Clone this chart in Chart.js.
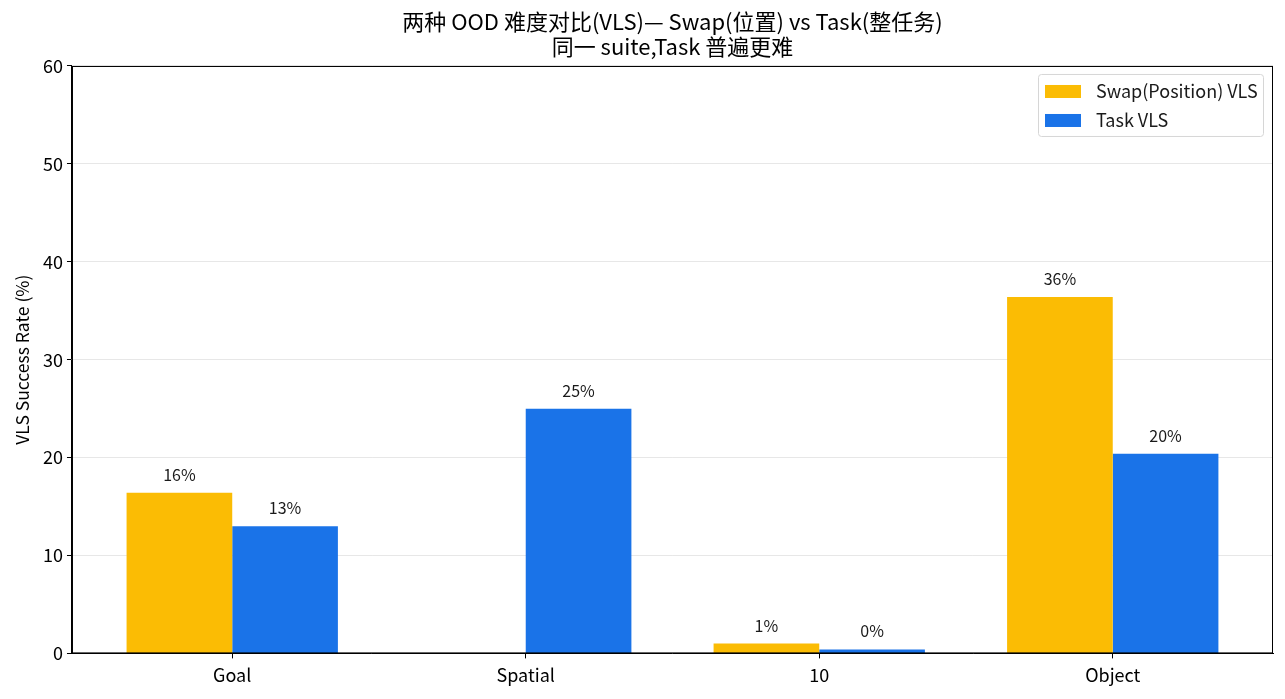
<!DOCTYPE html>
<html>
<head>
<meta charset="utf-8">
<script src="https://cdn.jsdelivr.net/npm/chart.js@4/dist/chart.umd.min.js"></script>
<style>
  html, body { margin: 0; padding: 0; background: #fff; }
  #wrap { width: 1285px; height: 699px; }
</style>
</head>
<body>
<div id="wrap"><canvas id="chart" width="1285" height="699"></canvas></div>
<script>
const FONT = '"Noto Sans CJK SC", "Noto Sans", sans-serif';

const categories = ["Goal", "Spatial", "10", "Object"];
const swapVLS = [16.4, null, 1.0, 36.4];
const taskVLS = [13.0, 25.0, 0.4, 20.4];
const yTicks = [0, 10, 20, 30, 40, 50, 60];

const seriesNames = ["Swap(Position) VLS", "Task VLS"];
const seriesColors = ["#FBBC04", "#1A73E8"];

function toPoints(values) {
  return values.map((v, i) => ({ x: i, y: v }));
}

// labels above each bar, e.g. "16%"
const barLabels = {
  id: "barLabels",
  afterDatasetsDraw(chart) {
    const ctx = chart.ctx;
    ctx.save();
    ctx.font = "16px " + FONT;
    ctx.fillStyle = "#1a1a1a";
    ctx.textAlign = "center";
    ctx.textBaseline = "alphabetic";
    chart.data.datasets.forEach((ds, di) => {
      chart.getDatasetMeta(di).data.forEach((bar, i) => {
        const v = ds.data[i].y;
        if (v === null) return;
        ctx.fillText(Math.round(v) + "%", bar.x, bar.y - 12);
      });
    });
    ctx.restore();
  }
};

// matplotlib-like frame and boxed legend
const frameAndLegend = {
  id: "frameAndLegend",
  afterDraw(chart) {
    const ctx = chart.ctx;
    const a = chart.chartArea;
    ctx.save();
    ctx.strokeStyle = "#000";
    ctx.lineWidth = 1;
    ctx.strokeRect(a.left + 0.5, a.top + 0.5, a.right - a.left - 1, a.bottom - a.top - 1);

    const bx = a.right - 235, by = a.top + 8, bw = 225, bh = 62;
    ctx.fillStyle = "rgba(255,255,255,0.8)";
    ctx.strokeStyle = "#d6d6d6";
    ctx.beginPath();
    ctx.roundRect(bx + 0.5, by + 0.5, bw, bh, 3);
    ctx.fill();
    ctx.stroke();

    ctx.font = "18px " + FONT;
    ctx.textBaseline = "middle";
    ctx.textAlign = "left";
    chart.data.datasets.forEach((ds, i) => {
      const cy = by + 17 + i * 29;
      ctx.fillStyle = ds.backgroundColor;
      ctx.fillRect(bx + 7, cy - 6, 36, 13);
      ctx.fillStyle = "#1a1a1a";
      ctx.fillText(ds.label, bx + 58, cy);
    });
    ctx.restore();
  }
};

new Chart(document.getElementById("chart"), {
  type: "bar",
  data: {
    datasets: [
      { label: seriesNames[0], data: toPoints(swapVLS), backgroundColor: seriesColors[0] },
      { label: seriesNames[1], data: toPoints(taskVLS), backgroundColor: seriesColors[1] }
    ]
  },
  options: {
    responsive: false,
    animation: false,
    devicePixelRatio: 1,
    layout: { padding: { left: 12, right: 12, top: 0, bottom: 7 } },
    datasets: {
      bar: { categoryPercentage: 0.72, barPercentage: 1.0, borderWidth: 0 }
    },
    plugins: {
      legend: { display: false },
      tooltip: { enabled: false },
      title: {
        display: true,
        fullSize: false,
        text: ["两种 OOD 难度对比(VLS)— Swap(位置) vs Task(整任务)", "同一 suite,Task 普遍更难"],
        color: "#000",
        font: { family: FONT, size: 22, weight: "normal", lineHeight: 1.136 },
        padding: { top: 9, bottom: 7 }
      }
    },
    scales: {
      x: {
        type: "linear",
        offset: false,
        min: -0.546,
        max: 3.546,
        afterBuildTicks: (scale) => { scale.ticks = categories.map((c, i) => ({ value: i })); },
        ticks: {
          callback: (v) => categories[v],
          color: "#000",
          font: { family: FONT, size: 18 },
          padding: 6,
          maxRotation: 0,
          autoSkip: false
        },
        grid: { offset: false, drawOnChartArea: false, tickColor: "#000", tickLength: 5 },
        border: { color: "#000" }
      },
      y: {
        min: 0,
        max: 60,
        z: 1,
        afterBuildTicks: (scale) => { scale.ticks = yTicks.map(v => ({ value: v })); },
        ticks: {
          color: "#000",
          font: { family: FONT, size: 18 },
          padding: 4
        },
        grid: { color: "rgba(176,176,176,0.3)", tickColor: "#000", tickLength: 5 },
        border: { color: "#000" },
        title: {
          display: true,
          text: "VLS Success Rate (%)",
          color: "#000",
          font: { family: FONT, size: 17.5 },
          padding: { top: 0, bottom: 6 }
        }
      }
    }
  },
  plugins: [barLabels, frameAndLegend]
});
</script>
</body>
</html>
